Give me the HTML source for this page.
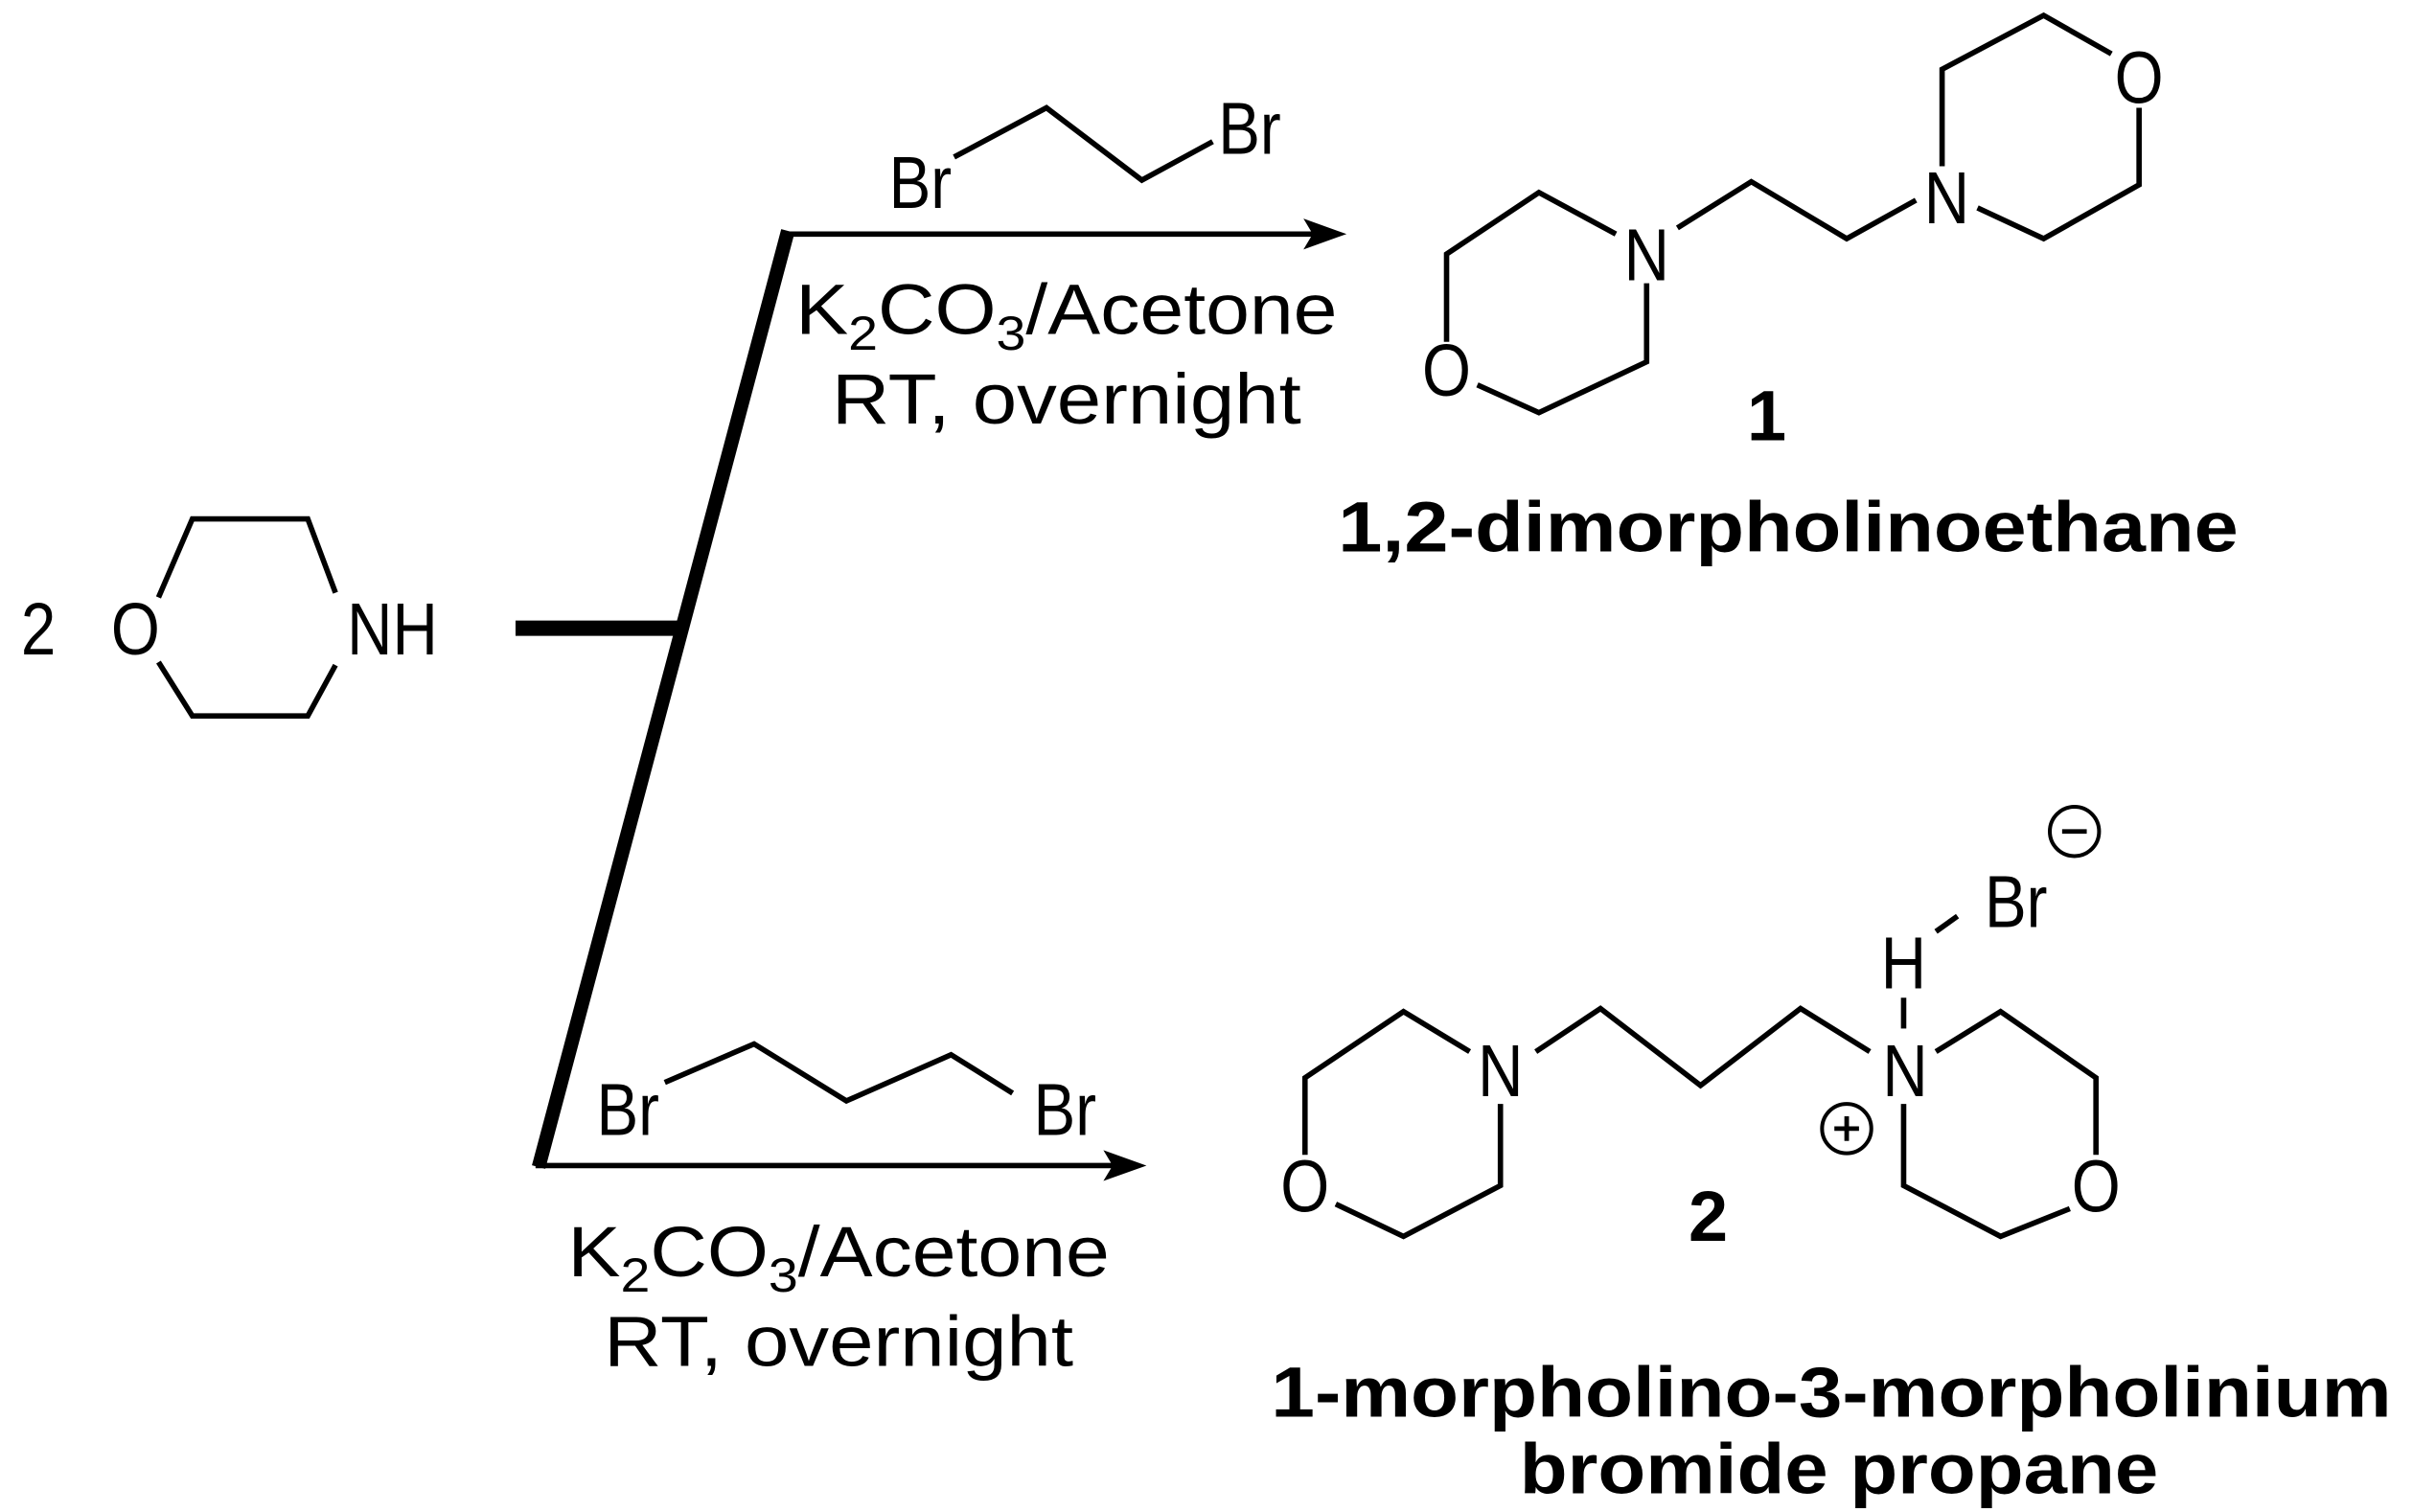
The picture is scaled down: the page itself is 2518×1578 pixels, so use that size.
<!DOCTYPE html>
<html><head><meta charset="utf-8"><style>
html,body{margin:0;padding:0;background:#fff;}
svg{display:block;}
text{font-family:"Liberation Sans",sans-serif;fill:#000;}
</style></head><body>
<svg width="2518" height="1578" viewBox="0 0 1568 982" preserveAspectRatio="none" xmlns="http://www.w3.org/2000/svg">
<g stroke="#000" stroke-width="3.5" fill="none" stroke-linejoin="miter">
<polyline points="103,388 125,337 200,337 218,385"/>
<polyline points="218,432 200,465 125,465 103,430"/>
<line x1="335" y1="408" x2="440" y2="408" stroke-width="10"/>
<line x1="512" y1="150" x2="350" y2="758" stroke-width="9"/>
<line x1="510" y1="152" x2="858" y2="152"/>
<line x1="348" y1="757" x2="728" y2="757"/>
<polyline points="620,102 680,70 742,117 788,92"/>
<polyline points="432,703 490,678 550,715 618,685 658,710"/>
<polyline points="940,222 940,165 1000,125 1050,152"/>
<polyline points="1070,184 1070,235 1000,268 960,250"/>
<polyline points="1090,148 1138,118 1200,155 1245,130"/>
<polyline points="1262,108 1262,45 1328,10 1372,35"/>
<polyline points="1390,70 1390,120 1328,155 1285,135"/>
<polyline points="848,750 848,700 912,657 955,683"/>
<polyline points="975,717 975,770 912,803 868,782"/>
<polyline points="998,683 1040,655 1105,705 1170,655 1215,683"/>
<polyline points="1258,683 1300,657 1362,700 1362,750"/>
<polyline points="1345,785 1300,803 1237,770 1237,717"/>
<line x1="1237" y1="648" x2="1237" y2="668"/>
<line x1="1258" y1="605" x2="1272" y2="595"/>
<circle cx="1348" cy="540" r="16" stroke-width="2.5"/>
<line x1="1340" y1="540" x2="1356" y2="540" stroke-width="3"/>
<circle cx="1200" cy="733" r="16" stroke-width="2.5"/>
<line x1="1192" y1="733" x2="1208" y2="733" stroke-width="3"/>
<line x1="1200" y1="725" x2="1200" y2="741" stroke-width="3"/>
</g>
<polygon points="875,152 847,142 853,152 847,162" fill="#000"/>
<polygon points="745,757 717,747 723,757 717,767" fill="#000"/>
<g font-size="48">
<text transform="translate(25,425) scale(0.85,1)" text-anchor="middle">2</text>
<text transform="translate(88,425) scale(0.85,1)" text-anchor="middle">O</text>
<text transform="translate(255,425) scale(0.85,1)" text-anchor="middle">NH</text>
<text transform="translate(598,135) scale(0.85,1)" text-anchor="middle">Br</text>
<text transform="translate(812,100) scale(0.85,1)" text-anchor="middle">Br</text>
<text transform="translate(408,737) scale(0.85,1)" text-anchor="middle">Br</text>
<text transform="translate(692,737) scale(0.85,1)" text-anchor="middle">Br</text>
<text transform="translate(940,257) scale(0.85,1)" text-anchor="middle">O</text>
<text transform="translate(1070,182) scale(0.85,1)" text-anchor="middle">N</text>
<text transform="translate(1265,145) scale(0.85,1)" text-anchor="middle">N</text>
<text transform="translate(1390,67) scale(0.85,1)" text-anchor="middle">O</text>
<text transform="translate(848,787) scale(0.85,1)" text-anchor="middle">O</text>
<text transform="translate(975,712) scale(0.85,1)" text-anchor="middle">N</text>
<text transform="translate(1238,712) scale(0.85,1)" text-anchor="middle">N</text>
<text transform="translate(1362,787) scale(0.85,1)" text-anchor="middle">O</text>
<text transform="translate(1237,642) scale(0.85,1)" text-anchor="middle">H</text>
<text transform="translate(1310,602) scale(0.85,1)" text-anchor="middle">Br</text>
</g>
<g font-size="46">
<text x="693" y="217" text-anchor="middle" textLength="352" lengthAdjust="spacingAndGlyphs">K<tspan font-size="31" dy="10">2</tspan><tspan dy="-10">CO</tspan><tspan font-size="31" dy="10">3</tspan><tspan dy="-10">/Acetone</tspan></text>
<text x="693" y="275" text-anchor="middle" textLength="305" lengthAdjust="spacingAndGlyphs">RT, overnight</text>
<text x="545" y="829" text-anchor="middle" textLength="352" lengthAdjust="spacingAndGlyphs">K<tspan font-size="31" dy="10">2</tspan><tspan dy="-10">CO</tspan><tspan font-size="31" dy="10">3</tspan><tspan dy="-10">/Acetone</tspan></text>
<text x="545" y="887" text-anchor="middle" textLength="305" lengthAdjust="spacingAndGlyphs">RT, overnight</text>
</g>
<g font-size="46" font-weight="bold">
<text x="1148" y="286" text-anchor="middle">1</text>
<text x="1162" y="358" text-anchor="middle" textLength="585" lengthAdjust="spacingAndGlyphs">1,2-dimorpholinoethane</text>
<text x="1110" y="806" text-anchor="middle">2</text>
<text x="1190" y="920" text-anchor="middle" textLength="728" lengthAdjust="spacingAndGlyphs">1-morpholino-3-morpholinium</text>
<text x="1195" y="970" text-anchor="middle" textLength="415" lengthAdjust="spacingAndGlyphs">bromide propane</text>
</g>
</svg>
</body></html>
